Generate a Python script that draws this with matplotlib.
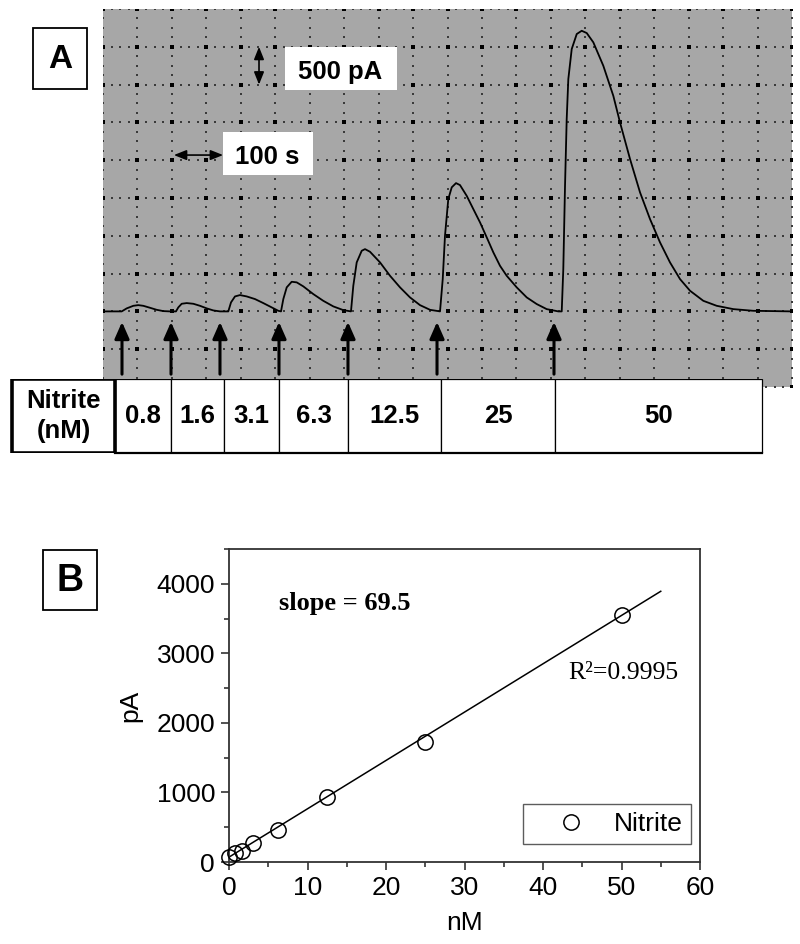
import numpy as np
import matplotlib
matplotlib.use('Agg')
from matplotlib import pyplot as plt
from matplotlib.patches import Rectangle
from matplotlib.ticker import MultipleLocator

plt.rcParams['font.family'] = ['Liberation Sans', 'DejaVu Sans']

# ---- panel A: amperometric trace (time in s, current in pA) ----
trace_t = [0, 38.0, 48.2, 61.6, 71.7, 81.9, 95.5, 109.1, 122.5, 136.1,
           148.3, 153.0, 159.9, 170.1, 183.5, 197.1, 210.7, 224.1, 237.7, 252.6,
           254.6, 260.1, 268.2, 278.4, 292.0, 308.9, 325.7, 342.8, 356.2,
           361.7, 366.4, 373.3, 383.4, 393.6, 407.0, 427.3, 447.6, 468.0, 488.3, 503.9,
           508.6, 515.5, 525.7, 532.4, 542.5, 562.9, 583.2, 603.5, 623.8, 644.1, 664.5, 684.8,
           690.3, 694.9, 701.6, 708.6, 717.3, 725.4, 739.0, 752.5, 766.1, 779.7, 793.1,
           806.7, 820.3, 840.6, 861.0, 881.3, 901.6, 925.2,
           932.1, 935.3, 938.8, 942.2, 945.5, 952.4, 962.6, 972.7, 982.9, 996.3, 1016.6,
           1036.9, 1050.5, 1070.9, 1091.2, 1111.5, 1131.8, 1152.1, 1172.5, 1192.8,
           1219.8, 1247.0, 1280.8, 1321.4, 1400]
trace_pa = [0, 0, 40, 74, 83, 74, 48, 21, 4, 0,
            0, 53, 101, 110, 101, 74, 40, 13, 0, 0,
            0, 119, 198, 216, 198, 163, 110, 53, 8,
            0, 163, 318, 392, 384, 331, 229, 140, 66, 17, 0,
            339, 648, 802, 824, 789, 648, 471, 318, 185, 83, 21, 0,
            427, 1000, 1486, 1641, 1697, 1671, 1529, 1353, 1177, 979, 781,
            603, 471, 318, 185, 97, 30, 0,
            0, 560, 1662, 2544, 3073, 3470, 3669, 3712, 3682, 3559, 3249,
            2852, 2500, 2015, 1574, 1221, 913, 648, 427, 273,
            140, 74, 30, 8, 0]
inject_t = [38.6, 138.2, 237.7, 357.6, 497.8, 678.7, 916.4]
conc_labels = ['0.8', '1.6', '3.1', '6.3', '12.5', '25', '50']
cell_edges = [24.4, 138.2, 245.9, 357.6, 497.8, 686.8, 918.4, 1339.1]
header_edges = [-185.0, 24.4]

# ---- panel B: calibration ----
conc_nm = [0, 0.8, 1.6, 3.1, 6.3, 12.5, 25, 50]
current_pa = [76, 125, 163, 269, 460, 940, 1731, 3544]
fit_x = [0, 55]
fit_y = [70, 3892]

W, H = 800, 944
fig = plt.figure(figsize=(W / 100, H / 100), dpi=100)


def box(l, t, r, b):
    return [l / W, 1 - b / H, (r - l) / W, (b - t) / H]


# ---------- panel A ----------
axA = fig.add_axes(box(103, 9, 792, 387))
axA.set_facecolor('#a7a7a7')
axA.set_xlim(0, 1400)
axA.set_ylim(-1000, 4000)
axA.set_xticks([])
axA.set_yticks([])
for s in axA.spines.values():
    s.set_visible(False)

t_major = np.arange(0, 1400.1, 70)
pa_major = np.arange(-1000, 4000.1, 500)
t_minor = np.arange(0, 1400.1, 17.5)
pa_minor = np.arange(-1000, 4000.1, 125)
gx, gy = np.meshgrid(t_minor, pa_major)
axA.scatter(gx.ravel(), gy.ravel(), s=1.2, marker='s', color='#3a3a3a', lw=0, zorder=1)
gx, gy = np.meshgrid(t_major, pa_minor)
axA.scatter(gx.ravel(), gy.ravel(), s=1.2, marker='s', color='#3a3a3a', lw=0, zorder=1)
gx, gy = np.meshgrid(t_major, pa_major)
axA.scatter(gx.ravel(), gy.ravel(), s=6, marker='s', color='black', lw=0, zorder=1)

axA.plot(trace_t, trace_pa, color='black', lw=1.3, zorder=3)

for t in inject_t:
    axA.annotate('', xy=(t, -140), xytext=(t, -830),
                 arrowprops=dict(arrowstyle='-|>,head_length=0.5,head_width=0.22',
                                 mutation_scale=20, lw=2.2, color='black',
                                 shrinkA=0, shrinkB=0), zorder=4)

# scale bars
sb = dict(arrowstyle='<|-|>,head_length=0.5,head_width=0.2', mutation_scale=15,
          lw=1.2, color='black', shrinkA=0, shrinkB=0)
axA.annotate('', xy=(317, 3500), xytext=(317, 3000), arrowprops=sb)
axA.annotate('', xy=(144, 2068), xytext=(244, 2068), arrowprops=sb)
axA.add_patch(Rectangle((370, 2930), 227, 570, facecolor='white', edgecolor='none', zorder=4))
axA.text(482.6, 3073, '500 pA', fontsize=18.5, fontweight='bold', ha='center', va='baseline', zorder=5)
axA.add_patch(Rectangle((244, 1803), 183, 569, facecolor='white', edgecolor='none', zorder=4))
axA.text(334.3, 1949, '100 s', fontsize=18.5, fontweight='bold', ha='center', va='baseline', zorder=5)

# concentration table under the trace
k = 1400 / 689
axT = fig.add_axes(box(0, 379, 800, 453))
axT.set_xlim(-103 * k, 697 * k)
axT.set_ylim(0, 1)
axT.axis('off')
for i, lab in enumerate(conc_labels):
    x0, x1 = cell_edges[i], cell_edges[i + 1]
    axT.add_patch(Rectangle((x0, 0), x1 - x0, 1, facecolor='white', edgecolor='black', lw=0.9))
    axT.text((x0 + x1) / 2, 0.5, lab, fontsize=18.5, fontweight='bold', ha='center', va='center')
axT.plot([cell_edges[0], cell_edges[-1]], [0, 0], color='black', lw=1.6, clip_on=False)
axT.add_patch(Rectangle((header_edges[0], 0), header_edges[1] - header_edges[0], 1,
                        facecolor='white', edgecolor='black', lw=2.6, zorder=3))
axT.text(sum(header_edges) / 2, 0.5, 'Nitrite\n(nM)', fontsize=18.5, fontweight='bold',
         ha='center', va='center', linespacing=1.3, zorder=4)

# ---------- panel B ----------
axB = fig.add_axes(box(229, 549, 700, 862))
axB.plot(fit_x, fit_y, color='black', lw=1.1)
axB.plot(conc_nm, current_pa, 'o', mfc='none', mec='black', ms=11, mew=1.1,
         label='Nitrite', clip_on=False, zorder=3)
axB.set_xlim(0, 60)
axB.set_ylim(0, 4500)
axB.xaxis.set_major_locator(MultipleLocator(10))
axB.xaxis.set_minor_locator(MultipleLocator(5))
axB.yaxis.set_major_locator(MultipleLocator(1000))
axB.yaxis.set_minor_locator(MultipleLocator(500))
axB.set_yticks([0, 1000, 2000, 3000, 4000])
axB.tick_params(which='both', direction='out', top=False, right=False, width=1.2,
                color='#333333', labelsize=19)
axB.tick_params(which='major', length=6, pad=4)
axB.tick_params(which='minor', length=3.5)
for s in axB.spines.values():
    s.set_linewidth(1.3)
    s.set_color('#333333')
axB.set_xlabel('nM', fontsize=19, labelpad=8)
axB.set_ylabel('pA', fontsize=19, labelpad=10)

axB.text(6.4, 3616, 'slope = 69.5', family='Liberation Serif', fontweight='bold',
         fontsize=19, va='baseline')
axB.text(43.2, 2629, 'R\u00b2=0.9995', family='Liberation Serif', fontsize=18.5, va='baseline')

leg = axB.legend(loc='lower right', bbox_to_anchor=(0.981, 0.0575), borderaxespad=0,
                 fontsize=19, frameon=True, fancybox=False, handlelength=3.0,
                 handletextpad=0.15, borderpad=0.3, numpoints=1)
leg.get_frame().set_edgecolor('#333333')
leg.get_frame().set_linewidth(1.0)

# ---------- panel letters ----------
ov = fig.add_axes([0, 0, 1, 1], zorder=10)
ov.set_xlim(0, W)
ov.set_ylim(H, 0)
ov.axis('off')
ov.patch.set_alpha(0)
ov.add_patch(Rectangle((33, 28), 54, 61, facecolor='white', edgecolor='black', lw=1.3))
ov.text(60, 59, 'A', fontsize=24, fontweight='bold', ha='center', va='center')
ov.add_patch(Rectangle((43, 550), 54, 60, facecolor='white', edgecolor='black', lw=1.3))
ov.text(70, 581, 'B', fontsize=27, fontweight='bold', ha='center', va='center')

fig.savefig('out.png', dpi=100)
